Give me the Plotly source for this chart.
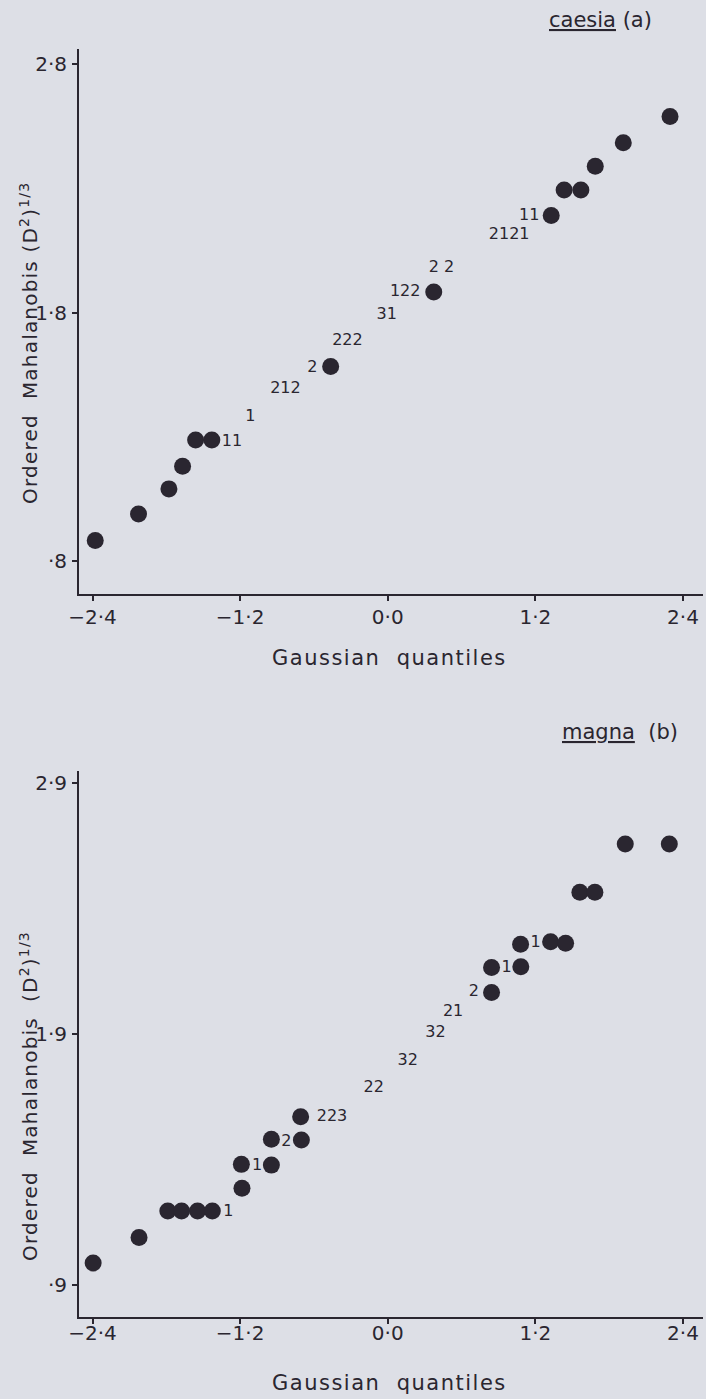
import plotly.graph_objects as go

# ---------------- data: panel (a) caesia ----------------
a_dot_x = [-2.378, -2.026, -1.779, -1.668, -1.562, -1.430, -0.464, 0.374,
           1.329, 1.434, 1.570, 1.687, 1.915, 2.295]
a_dot_y = [0.884, 0.991, 1.092, 1.183, 1.289, 1.289, 1.584, 1.884,
           2.192, 2.295, 2.295, 2.390, 2.485, 2.590]
a_txt = ["11", "1", "212", "2", "222", "31", "122", "2 2", "2121", "11"]
a_txt_x = [-1.267, -1.117, -0.832, -0.613, -0.328, -0.008, 0.142, 0.437, 0.987, 1.150]
a_txt_y = [1.282, 1.383, 1.494, 1.577, 1.689, 1.793, 1.883, 1.980, 2.114, 2.192]

# ---------------- data: panel (b) magna ----------------
b_dot_x = [-2.395, -2.022, -1.788, -1.676, -1.546, -1.426, -1.185, -1.190,
           -0.946, -0.946, -0.702, -0.708, 0.844, 0.844, 1.082, 1.080,
           1.324, 1.446, 1.562, 1.684, 1.931, 2.289]
b_dot_y = [0.989, 1.091, 1.196, 1.196, 1.196, 1.196, 1.287, 1.382,
           1.379, 1.482, 1.479, 1.572, 2.067, 2.166, 2.169, 2.259,
           2.269, 2.263, 2.466, 2.466, 2.658, 2.658]
b_txt = ["1", "1", "2", "223", "22", "32", "32", "21", "2", "1", "1"]
b_txt_x = [-1.296, -1.063, -0.824, -0.453, -0.114, 0.163, 0.388, 0.531, 0.700, 0.966, 1.202]
b_txt_y = [1.193, 1.377, 1.472, 1.572, 1.685, 1.794, 1.904, 1.988, 2.067, 2.166, 2.263]

# ---------------- tick labels ----------------
x_tickvals = [-2.4, -1.2, 0.0, 1.2, 2.4]
x_ticktext = ["\u22122\u00b74", "\u22121\u00b72", "0\u00b70", "1\u00b72", "2\u00b74"]
a_y_tickvals = [0.8, 1.8, 2.8]
a_y_ticktext = ["\u00b78", "1\u00b78", "2\u00b78"]
b_y_tickvals = [0.9, 1.9, 2.9]
b_y_ticktext = ["\u00b79", "1\u00b79", "2\u00b79"]

INK = "#2a2630"
BG = "#dddfe6"
FONT = "DejaVu Sans"
W, H = 706, 1399

fig = go.Figure()
fig.add_trace(go.Scatter(x=a_dot_x, y=a_dot_y, mode="markers", xaxis="x", yaxis="y",
                         marker=dict(size=17, color=INK), showlegend=False))
fig.add_trace(go.Scatter(x=a_txt_x, y=a_txt_y, text=a_txt, mode="text", xaxis="x", yaxis="y",
                         textfont=dict(size=16, color=INK, family=FONT), showlegend=False))
fig.add_trace(go.Scatter(x=b_dot_x, y=b_dot_y, mode="markers", xaxis="x2", yaxis="y2",
                         marker=dict(size=17, color=INK), showlegend=False))
fig.add_trace(go.Scatter(x=b_txt_x, y=b_txt_y, text=b_txt, mode="text", xaxis="x2", yaxis="y2",
                         textfont=dict(size=16, color=INK, family=FONT), showlegend=False))

axis_common = dict(showgrid=False, zeroline=False, showline=True, linewidth=2, linecolor=INK,
                   ticks="outside", ticklen=5, tickwidth=1.5, tickcolor=INK,
                   tickfont=dict(size=20, color=INK, family=FONT), mirror=False)


def py(p):  # pixel row -> paper fraction
    return 1 - p / H


def px(p):  # pixel column -> paper fraction
    return (p - 79) / (W - 79 - 3)


fig.update_layout(
    width=W, height=H,
    margin=dict(l=79, r=3, t=0, b=0),
    paper_bgcolor=BG, plot_bgcolor=BG,
    font=dict(family=FONT, color=INK),
    xaxis=dict(axis_common, domain=[0, 1], anchor="y", range=[-2.51, 2.563],
               tickvals=x_tickvals, ticktext=x_ticktext, ticklabelstandoff=-1),
    yaxis=dict(axis_common, domain=[py(594), py(49)], anchor="x", range=[0.669, 2.862],
               tickvals=a_y_tickvals, ticktext=a_y_ticktext, ticklabelstandoff=1),
    xaxis2=dict(axis_common, domain=[0, 1], anchor="y2", range=[-2.51, 2.563],
                tickvals=x_tickvals, ticktext=x_ticktext, ticklabelstandoff=-8),
    yaxis2=dict(axis_common, domain=[py(1317), py(771)], anchor="x2", range=[0.774, 2.949],
                tickvals=b_y_tickvals, ticktext=b_y_ticktext, ticklabelstandoff=1),
)

SP = '<span style="letter-spacing:%spx">%s</span>'
ann = [
    dict(text="<u>caesia</u> (a)", x=px(600), y=py(20), size=21),
    dict(text="<u>magna</u>  (b)", x=px(620), y=py(732), size=21),
    dict(text=SP % (1.5, "Gaussian  quantiles"), x=px(389), y=py(658), size=21),
    dict(text=SP % (1.5, "Gaussian  quantiles"), x=px(389), y=py(1383), size=21),
    dict(text=SP % (1.2, "Ordered  Mahalanobis (D<sup>2</sup>)<sup>1/3</sup>"),
         x=px(29), y=py(343), size=20, angle=-90),
    dict(text=SP % (1.2, "Ordered  Mahalanobis  (D<sup>2</sup>)<sup>1/3</sup>"),
         x=px(29), y=py(1096), size=20, angle=-90),
]
for a in ann:
    fig.add_annotation(text=a["text"], x=a["x"], y=a["y"], xref="paper", yref="paper",
                       xanchor="center", yanchor="middle", showarrow=False,
                       textangle=a.get("angle", 0),
                       font=dict(size=a.get("size", 20), color=INK, family=FONT))

fig.write_html("out.html")
